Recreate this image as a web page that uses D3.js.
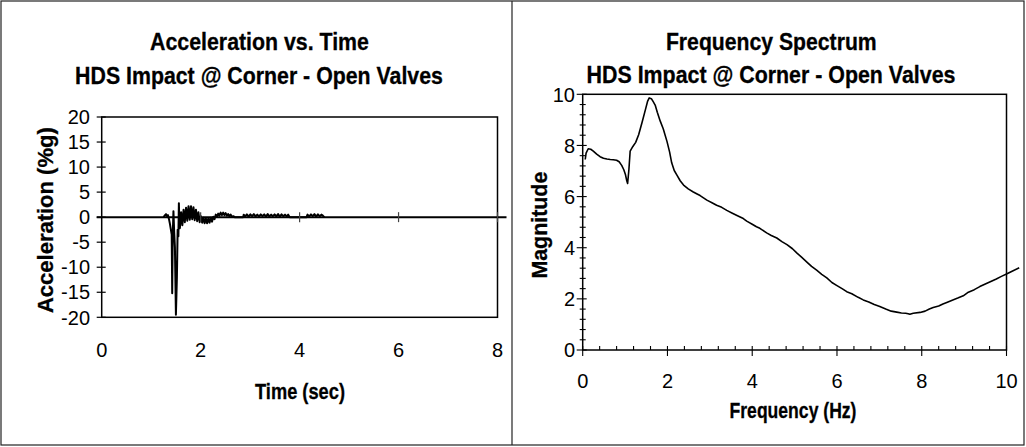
<!DOCTYPE html>
<html><head><meta charset="utf-8">
<script src="https://cdn.jsdelivr.net/npm/d3@7"></script>
<style>
html,body{margin:0;padding:0;background:#fff;}
svg{display:block;font-family:"Liberation Sans",Arial,sans-serif;}
</style></head>
<body><svg id="c" width="1026" height="447"></svg>
<script>
// ---------- DATA ----------
const accTitle1 = "Acceleration vs. Time";
const accTitle2 = "HDS Impact @ Corner - Open Valves";
const accXLabel = "Time (sec)";
const accYLabel = "Acceleration (%g)";
const accXTicks = [0, 2, 4, 6, 8];
const accYTicks = [-20, -15, -10, -5, 0, 5, 10, 15, 20];
const accTime = [1.25,1.28,1.30,1.32,1.34,1.36,1.38,1.40,1.415,1.425,1.435,1.45,1.465,1.48,1.50,1.52,1.535,1.55,1.56,1.57,
 1.58,1.605,1.63,1.655,1.68,1.705,1.73,1.755,1.78,1.805,1.83,1.855,1.88,1.905,1.93,1.955,1.98,
 2.005,2.03,2.055,2.08,2.105,2.13,2.155,2.18,2.205,2.23,2.255,
 2.28,2.305,2.33,2.355,2.38,2.405,2.43,2.455,2.48,2.505,2.53,2.555,2.58,2.605,2.63,2.66,2.69,2.86,
 2.87,2.90,2.935,2.97,3.005,3.04,3.075,3.11,3.145,3.18,3.215,3.25,3.285,3.32,3.355,3.39,3.425,3.46,3.495,3.53,3.565,3.60,3.635,3.67,3.705,3.74,3.77,3.80,
 4.14,4.16,4.195,4.23,4.265,4.30,4.335,4.37,4.405,4.44,4.47,4.50];
const accValue = [0,0.4,0.6,0.2,0.4,-0.4,-1.4,-2.6,-3.5,-15.2,-4.0,1.2,-3.0,-6.0,-19.5,-12.0,-2.5,-3.8,2.8,-1.6,
 -2.2,1.0,-1.6,1.5,-1.0,1.9,-0.7,2.2,-0.5,2.2,-0.4,2.0,-0.6,1.5,-0.8,1.0,-1.0,
 0.2,-1.1,-0.1,-1.2,-0.2,-1.2,-0.2,-1.1,-0.1,-0.9,0.1,
 -0.4,0.5,0.1,0.7,0.3,0.9,0.4,0.9,0.4,0.8,0.3,0.6,0.2,0.5,0.1,0.2,0,0,
 0.5,0.15,0.55,0.1,0.55,0.2,0.6,0.15,0.5,0.15,0.55,0.2,0.55,0.1,0.6,0.15,0.5,0.2,0.55,0.15,0.6,0.1,0.55,0.2,0.5,0.15,0.5,0,
 0,0.5,0.15,0.55,0.2,0.6,0.1,0.55,0.2,0.5,0.3,0];

const specTitle1 = "Frequency Spectrum";
const specTitle2 = "HDS Impact @ Corner - Open Valves";
const specXLabel = "Frequency (Hz)";
const specYLabel = "Magnitude";
const specXTicks = [0, 2, 4, 6, 8, 10];
const specYTicks = [0, 2, 4, 6, 8, 10];
const specFreq = [0.06,0.08,0.13,0.19,0.25,0.33,0.41,0.49,0.57,0.65,0.72,0.80,0.86,0.92,0.97,1.01,1.04,1.06,1.09,1.12,1.18,1.25,1.32,1.40,1.48,1.53,1.57,1.62,1.66,1.71,1.76,1.83,1.90,1.99,2.05,2.10,2.16,2.22,2.30,2.38,2.49,2.61,2.70,2.77,2.85,2.93,3.05,3.16,3.28,3.40,3.52,3.64,3.79,3.87,4.00,4.10,4.18,4.34,4.45,4.58,4.70,4.82,4.95,5.05,5.17,5.29,5.40,5.52,5.64,5.76,5.88,6.00,6.12,6.23,6.35,6.50,6.62,6.75,6.88,7.01,7.15,7.28,7.41,7.52,7.62,7.68,7.72,7.80,7.96,8.08,8.18,8.27,8.40,8.50,8.59,8.72,8.85,8.98,9.10,9.24,9.37,9.50,9.63,9.76,9.88,10.00,10.12,10.30];
const specMag = [7.45,7.70,7.87,7.85,7.78,7.66,7.56,7.50,7.47,7.45,7.44,7.42,7.36,7.22,7.05,6.85,6.62,6.51,7.05,7.78,7.95,8.12,8.42,8.90,9.40,9.72,9.86,9.83,9.72,9.58,9.30,8.95,8.65,8.15,7.75,7.32,7.02,6.85,6.62,6.45,6.30,6.18,6.10,6.04,5.95,5.86,5.76,5.66,5.58,5.46,5.36,5.26,5.14,5.04,4.92,4.82,4.76,4.58,4.48,4.38,4.24,4.12,3.96,3.80,3.62,3.44,3.27,3.12,2.96,2.82,2.64,2.52,2.40,2.28,2.20,2.06,1.96,1.88,1.78,1.70,1.60,1.52,1.48,1.45,1.44,1.42,1.40,1.44,1.47,1.52,1.60,1.66,1.72,1.80,1.86,1.95,2.03,2.12,2.26,2.36,2.48,2.58,2.68,2.78,2.88,2.97,3.07,3.22];

// ---------- DRAW ----------
const svg = d3.select("#c");
const ink = "#000";

// outer borders
svg.append("rect").attr("x",1).attr("y",1).attr("width",1023).attr("height",444)
  .attr("fill","none").attr("stroke","#222").attr("stroke-width",1.2);
svg.append("line").attr("x1",512).attr("x2",512).attr("y1",1).attr("y2",445)
  .attr("stroke","#222").attr("stroke-width",1.2);

// bold text, horizontally condensed to a target width (keeps full glyph height)
function boldText(cx, cy, txt, len, size, rotate){
  const t = svg.append("text").attr("text-anchor","middle")
    .attr("font-weight","bold").attr("font-size",size).attr("fill",ink)
    .attr("stroke",ink).attr("stroke-width",0.3).text(txt);
  const w = t.node().getComputedTextLength();
  const sx = Math.min(1, len / w);
  t.attr("transform", `translate(${cx},${cy})${rotate ? " rotate(-90)" : ""} scale(${sx},1)`);
}
const TS = 24;     // title size
const AS = 22;     // axis title size
const LS = 20;     // tick label size

// ===== Left chart =====
{
  const x = d3.scaleLinear().domain([0,8]).range([101.7,497.5]);
  const y = d3.scaleLinear().domain([-20,20]).range([317.3,117]);

  boldText(259.5, 50, accTitle1, 219, TS);
  boldText(259, 84, accTitle2, 368, TS);
  boldText(300, 399, accXLabel, 90, AS);
  boldText(53, (y(20)+y(-20))/2+3, accYLabel, 186, AS, true);

  // plot frame
  svg.append("rect").attr("x",x(0)).attr("y",y(20)).attr("width",x(8)-x(0)).attr("height",y(-20)-y(20))
    .attr("fill","none").attr("stroke",ink).attr("stroke-width",1.5);

  // y axis ticks (crossing) + labels
  const ya = svg.append("g");
  ya.selectAll("line").data(accYTicks).join("line")
    .attr("x1",x(0)-5).attr("x2",x(0)+4).attr("y1",d=>y(d)).attr("y2",d=>y(d))
    .attr("stroke",ink).attr("stroke-width",1.2);
  ya.selectAll("text").data(accYTicks).join("text")
    .attr("x",90).attr("y",d=>y(d)).attr("dy","0.36em").attr("text-anchor","end")
    .attr("font-size",LS).text(d=>d);

  // x tick labels at bottom
  svg.append("g").selectAll("text").data(accXTicks).join("text")
    .attr("x",d=>x(d)).attr("y",357).attr("text-anchor","middle").attr("font-size",LS).text(d=>d);

  // data line
  const pts = accTime.map((t,i)=>[t,accValue[i]]);
  svg.append("path").datum(pts)
    .attr("d", d3.line().x(d=>x(d[0])).y(d=>y(d[1])))
    .attr("fill","none").attr("stroke",ink).attr("stroke-width",2).attr("stroke-linejoin","round");

  // zero axis line with crossing ticks
  svg.append("line").attr("x1",x(0)-5).attr("x2",x(8)+9).attr("y1",y(0)).attr("y2",y(0))
    .attr("stroke",ink).attr("stroke-width",2);
  svg.append("g").selectAll("line").data(accXTicks.slice(1)).join("line")
    .attr("x1",d=>x(d)).attr("x2",d=>x(d)).attr("y1",y(0)-5).attr("y2",y(0)+5)
    .attr("stroke","#444").attr("stroke-width",1.2);
}

// ===== Right chart =====
{
  const x = d3.scaleLinear().domain([0,10]).range([582.7,1006.5]);
  const y = d3.scaleLinear().domain([0,10]).range([350,94.3]);

  boldText(771.3, 50, specTitle1, 211, TS);
  boldText(771, 83, specTitle2, 369, TS);
  boldText(793, 418, specXLabel, 127, AS);
  boldText(547, (y(0)+y(10))/2+3, specYLabel, 107, AS, true);

  // plot frame
  svg.append("rect").attr("x",x(0)).attr("y",y(10)).attr("width",x(10)-x(0)).attr("height",y(0)-y(10))
    .attr("fill","none").attr("stroke",ink).attr("stroke-width",1.5);

  const minor = d3.range(0, 10.001, 0.4).filter(v => Math.abs(v/2 - Math.round(v/2)) > 1e-6);

  // y ticks
  const g = svg.append("g").attr("stroke",ink).attr("stroke-width",1.1);
  g.selectAll(".ymaj").data(specYTicks).join("line").attr("class","ymaj")
    .attr("x1",x(0)-6).attr("x2",x(0)+4).attr("y1",d=>y(d)).attr("y2",d=>y(d));
  g.selectAll(".ymin").data(minor).join("line").attr("class","ymin")
    .attr("x1",x(0)-3).attr("x2",x(0)+3).attr("y1",d=>y(d)).attr("y2",d=>y(d));
  // x ticks
  g.selectAll(".xmaj").data(specXTicks).join("line").attr("class","xmaj")
    .attr("x1",d=>x(d)).attr("x2",d=>x(d)).attr("y1",y(0)-4).attr("y2",y(0)+6);
  g.selectAll(".xmin").data(minor).join("line").attr("class","xmin")
    .attr("x1",d=>x(d)).attr("x2",d=>x(d)).attr("y1",y(0)-4).attr("y2",y(0));

  svg.append("g").selectAll("text").data(specYTicks).join("text")
    .attr("x",575).attr("y",d=>y(d)).attr("dy","0.36em").attr("text-anchor","end")
    .attr("font-size",LS).text(d=>d);
  svg.append("g").selectAll("text").data(specXTicks).join("text")
    .attr("x",d=>x(d)).attr("y",388).attr("text-anchor","middle").attr("font-size",LS).text(d=>d);

  const pts = specFreq.map((f,i)=>[f,specMag[i]]);
  svg.append("path").datum(pts)
    .attr("d", d3.line().x(d=>x(d[0])).y(d=>y(d[1])))
    .attr("fill","none").attr("stroke",ink).attr("stroke-width",1.6).attr("stroke-linejoin","round");
}
</script></body></html>
